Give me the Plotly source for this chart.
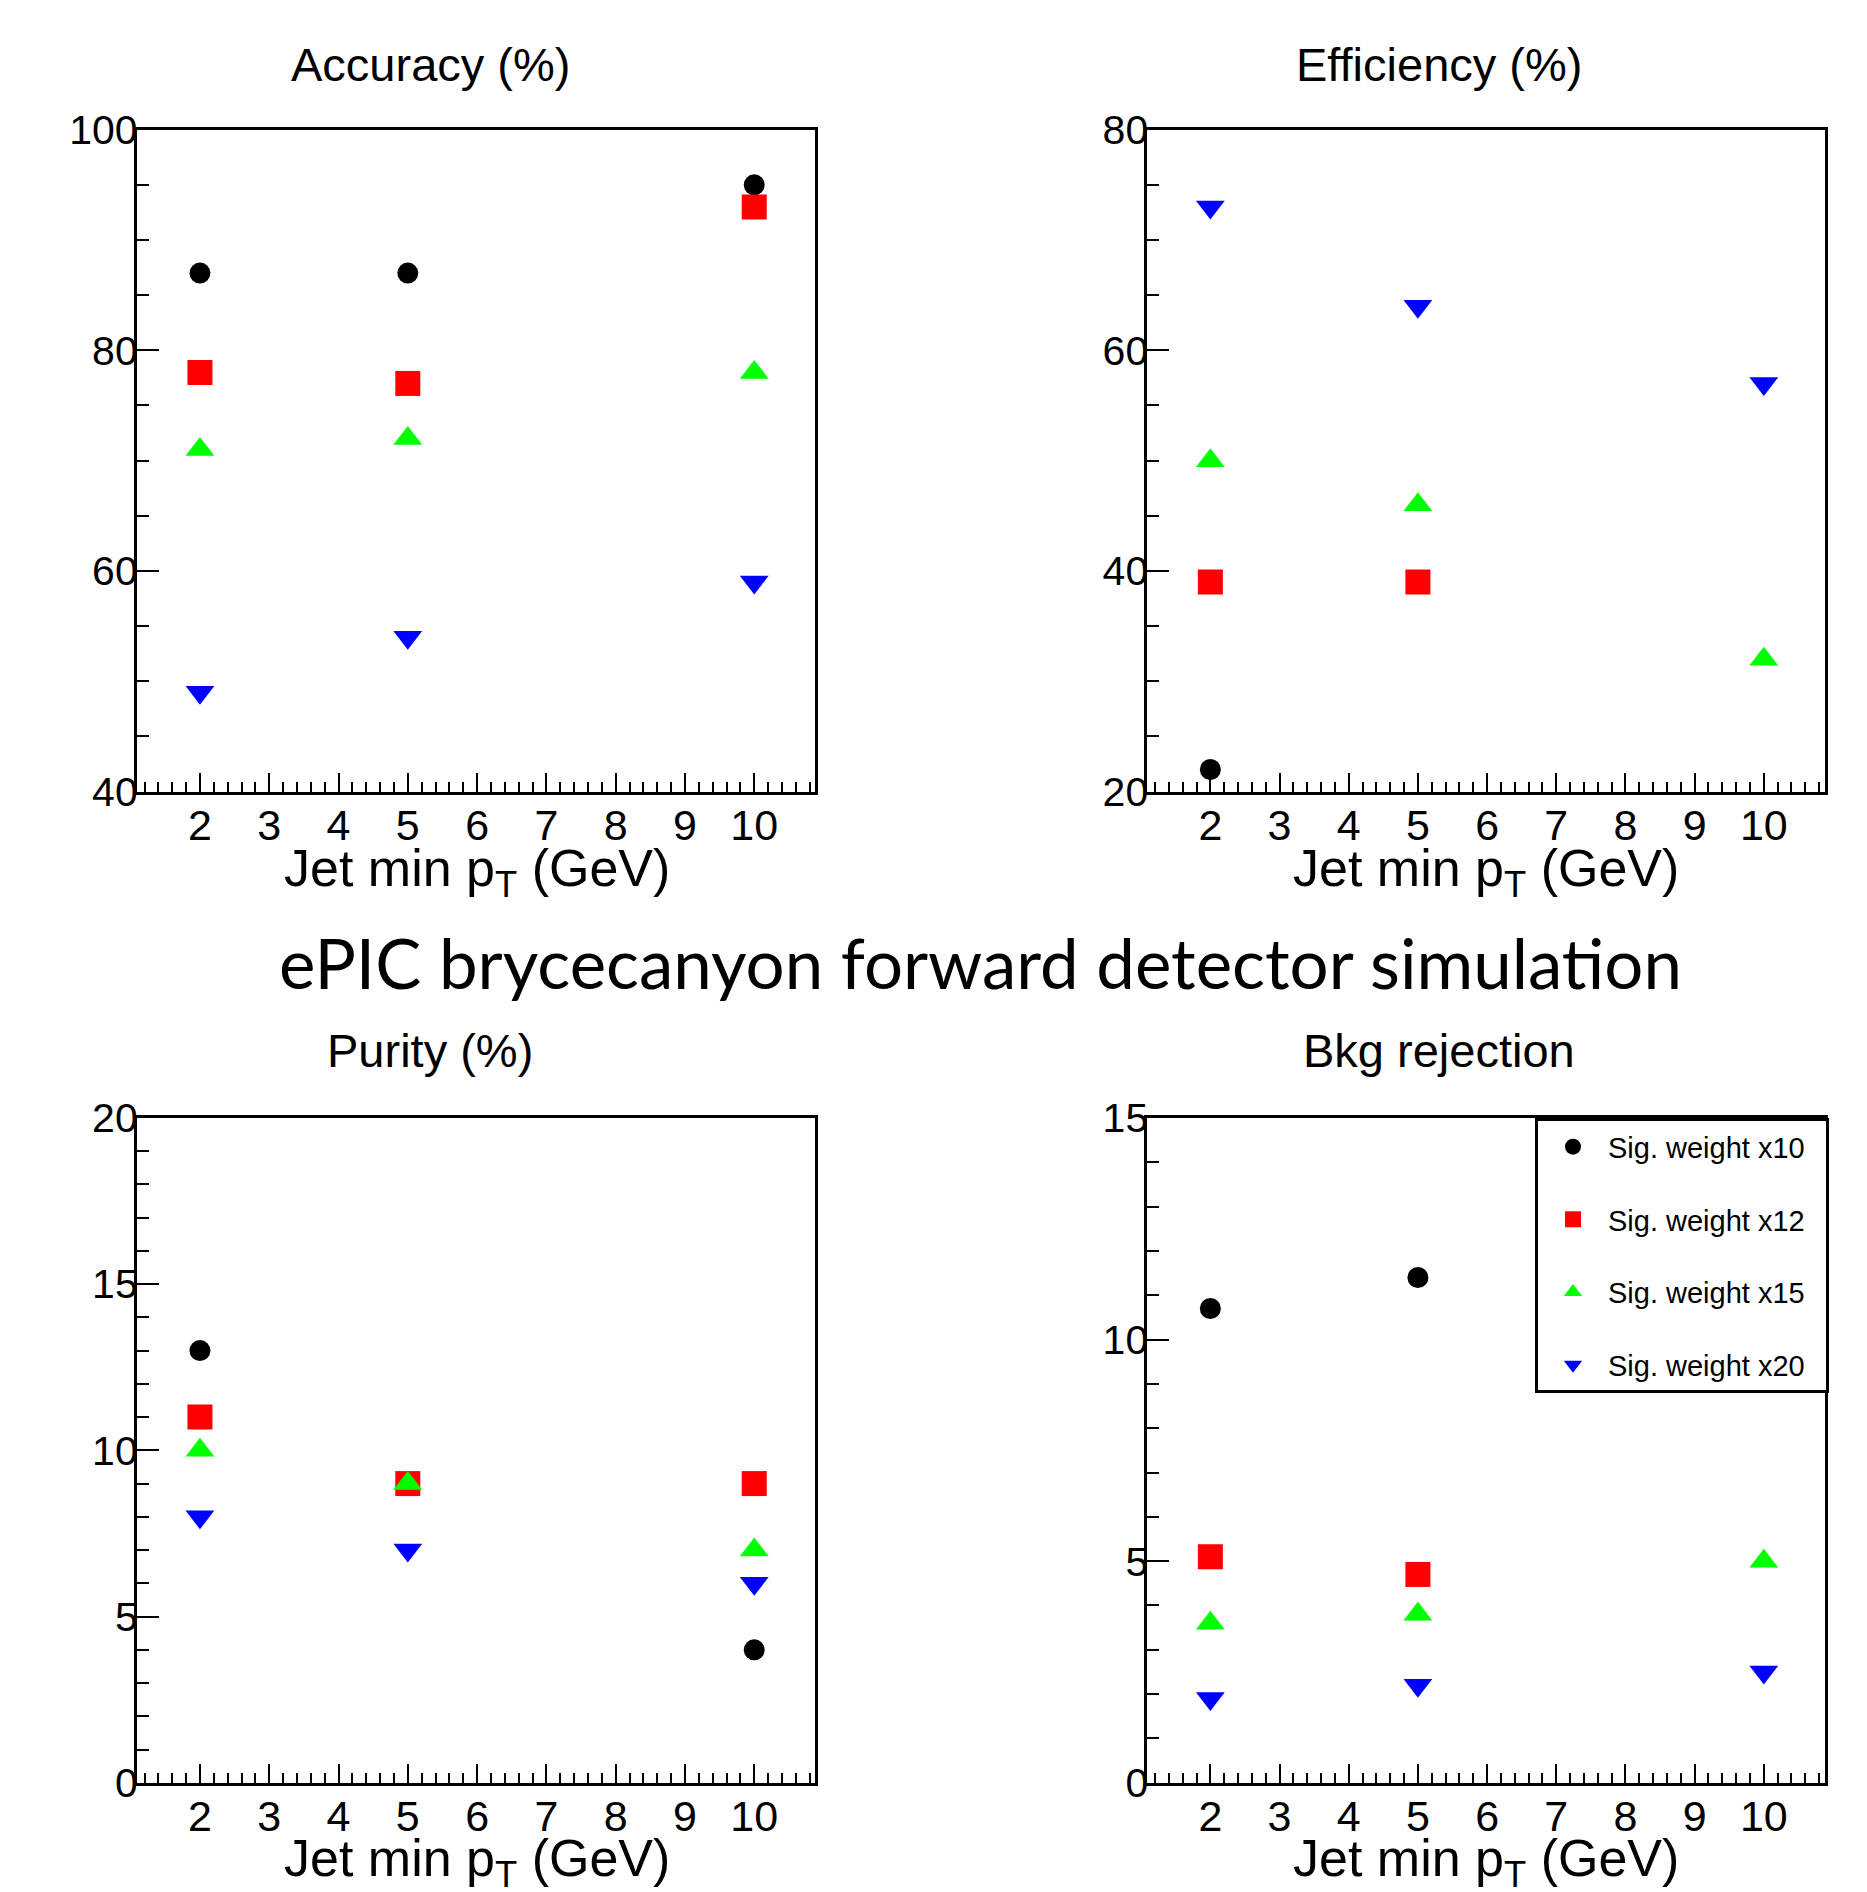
import plotly.graph_objects as go

# ---------------- data ----------------
pt_cuts = [2, 5, 10]
x_tick_vals = [2, 3, 4, 5, 6, 7, 8, 9, 10]

series_names = ["Sig. weight x10", "Sig. weight x12", "Sig. weight x15", "Sig. weight x20"]

accuracy_x10 = [87, 87, 95]
accuracy_x12 = [78, 77, 93]
accuracy_x15 = [71, 72, 78]
accuracy_x20 = [49, 54, 59]

efficiency_x10 = [22, None, None]
efficiency_x12 = [39, 39, None]
efficiency_x15 = [50, 46, 32]
efficiency_x20 = [73, 64, 57]

purity_x10 = [13, None, 4]
purity_x12 = [11, 9, 9]
purity_x15 = [10, 9, 7]
purity_x20 = [8, 7, 6]

bkgrej_x10 = [10.7, 11.4, None]
bkgrej_x12 = [5.1, 4.7, None]
bkgrej_x15 = [3.6, 3.8, 5.0]
bkgrej_x20 = [1.9, 2.2, 2.5]

panel_titles = ["Accuracy (%)", "Efficiency (%)", "Purity (%)", "Bkg rejection"]
main_title = "ePIC brycecanyon forward detector simulation"
x_title = "Jet min p<sub>T</sub> (GeV)"

# ---------------- styling ----------------
W, H = 1867, 1892
OFF = 8  # page body margin
marker_colors = ["#000000", "#ff0000", "#00ff00", "#0000ff"]
marker_symbols = ["circle", "square", "triangle-up", "triangle-down"]
marker_sizes = [21, 25, 25, 25]
FONT = "Liberation Sans, Arial, sans-serif"


def px(x):
    return (x - OFF) / W


def py(y):
    return 1 - (y - OFF) / H


panels = [
    dict(data=[accuracy_x10, accuracy_x12, accuracy_x15, accuracy_x20], yr=[40, 100], dt=20, mdt=5,
         xd=[px(136.9), px(815.2)], yd=[py(791.6), py(129.7)], tx=430, ty=64, ax=477, ay=872),
    dict(data=[efficiency_x10, efficiency_x12, efficiency_x15, efficiency_x20], yr=[20, 80], dt=20, mdt=5,
         xd=[px(1147.4), px(1824.7)], yd=[py(791.6), py(129.7)], tx=1439, ty=64, ax=1486, ay=872),
    dict(data=[purity_x10, purity_x12, purity_x15, purity_x20], yr=[0, 20], dt=5, mdt=1,
         xd=[px(136.9), px(815.2)], yd=[py(1782.8), py(1117.9)], tx=430, ty=1050, ax=477, ay=1862),
    dict(data=[bkgrej_x10, bkgrej_x12, bkgrej_x15, bkgrej_x20], yr=[0, 15], dt=5, mdt=1,
         xd=[px(1147.4), px(1824.7)], yd=[py(1782.8), py(1117.9)], tx=1439, ty=1050, ax=1486, ay=1862),
]

fig = go.Figure()
annotations = []

for i, p in enumerate(panels):
    k = "" if i == 0 else str(i + 1)
    for j, ys in enumerate(p["data"]):
        fig.add_trace(go.Scatter(
            x=pt_cuts, y=ys, mode="markers", name=series_names[j] + "\u00a0\u00a0",
            xaxis="x" + k, yaxis="y" + k,
            marker=dict(symbol=marker_symbols[j], size=marker_sizes[j], color=marker_colors[j],
                        line=dict(width=0)),
            showlegend=(i == 3), legendgroup=series_names[j], cliponaxis=True,
        ))
    fig.layout["xaxis" + k] = dict(
        domain=p["xd"], anchor="y" + k, range=[1.09, 10.88],
        tickmode="array", tickvals=x_tick_vals,
        ticks="inside", ticklen=19, tickwidth=2, tickcolor="black",
        minor=dict(dtick=0.2, tick0=0, ticks="inside", ticklen=10, tickwidth=2, tickcolor="black"),
        showline=True, mirror=True, linecolor="black", linewidth=3,
        showgrid=False, zeroline=False, ticklabelstandoff=-6, automargin=False,
        tickfont=dict(family=FONT, size=43, color="black"),
    )
    fig.layout["yaxis" + k] = dict(
        domain=p["yd"], anchor="x" + k, range=p["yr"],
        dtick=p["dt"], tick0=0,
        ticks="inside", ticklen=22, tickwidth=2, tickcolor="black",
        minor=dict(dtick=p["mdt"], ticks="inside", ticklen=12, tickwidth=2, tickcolor="black"),
        showline=True, mirror=True, linecolor="black", linewidth=3,
        showgrid=False, zeroline=False, ticklabelstandoff=-12, automargin=False,
        tickfont=dict(family=FONT, size=41, color="black"),
    )
    annotations.append(dict(text=panel_titles[i], x=px(p["tx"]), y=py(p["ty"]), xref="paper", yref="paper",
                            showarrow=False, xanchor="center", yanchor="middle",
                            font=dict(family=FONT, size=47, color="black")))
    annotations.append(dict(text=x_title, x=px(p["ax"]), y=py(p["ay"]), xref="paper", yref="paper",
                            showarrow=False, xanchor="center", yanchor="middle",
                            font=dict(family=FONT, size=52, color="black")))

annotations.append(dict(text=main_title, x=px(980), y=py(962), xref="paper", yref="paper",
                        showarrow=False, xanchor="center", yanchor="middle",
                        font=dict(family="Lato, Open Sans, sans-serif", size=69, color="black")))

fig.update_layout(
    width=W, height=H, margin=dict(l=0, r=0, t=0, b=0, pad=0, autoexpand=False),
    paper_bgcolor="white", plot_bgcolor="white",
    annotations=annotations,
    shapes=[dict(type="rect", xref="paper", yref="paper", x0=px(0), x1=px(7), y0=py(1149), y1=py(1142),
                 fillcolor="black", line=dict(width=0))],
    legend=dict(x=px(1535), y=py(1118.3), xanchor="left", yanchor="top",
                bgcolor="white", bordercolor="black", borderwidth=3,
                font=dict(family=FONT, size=29, color="black"),
                tracegroupgap=32, itemwidth=60, traceorder="grouped"),
)

fig.write_html("out.html")
